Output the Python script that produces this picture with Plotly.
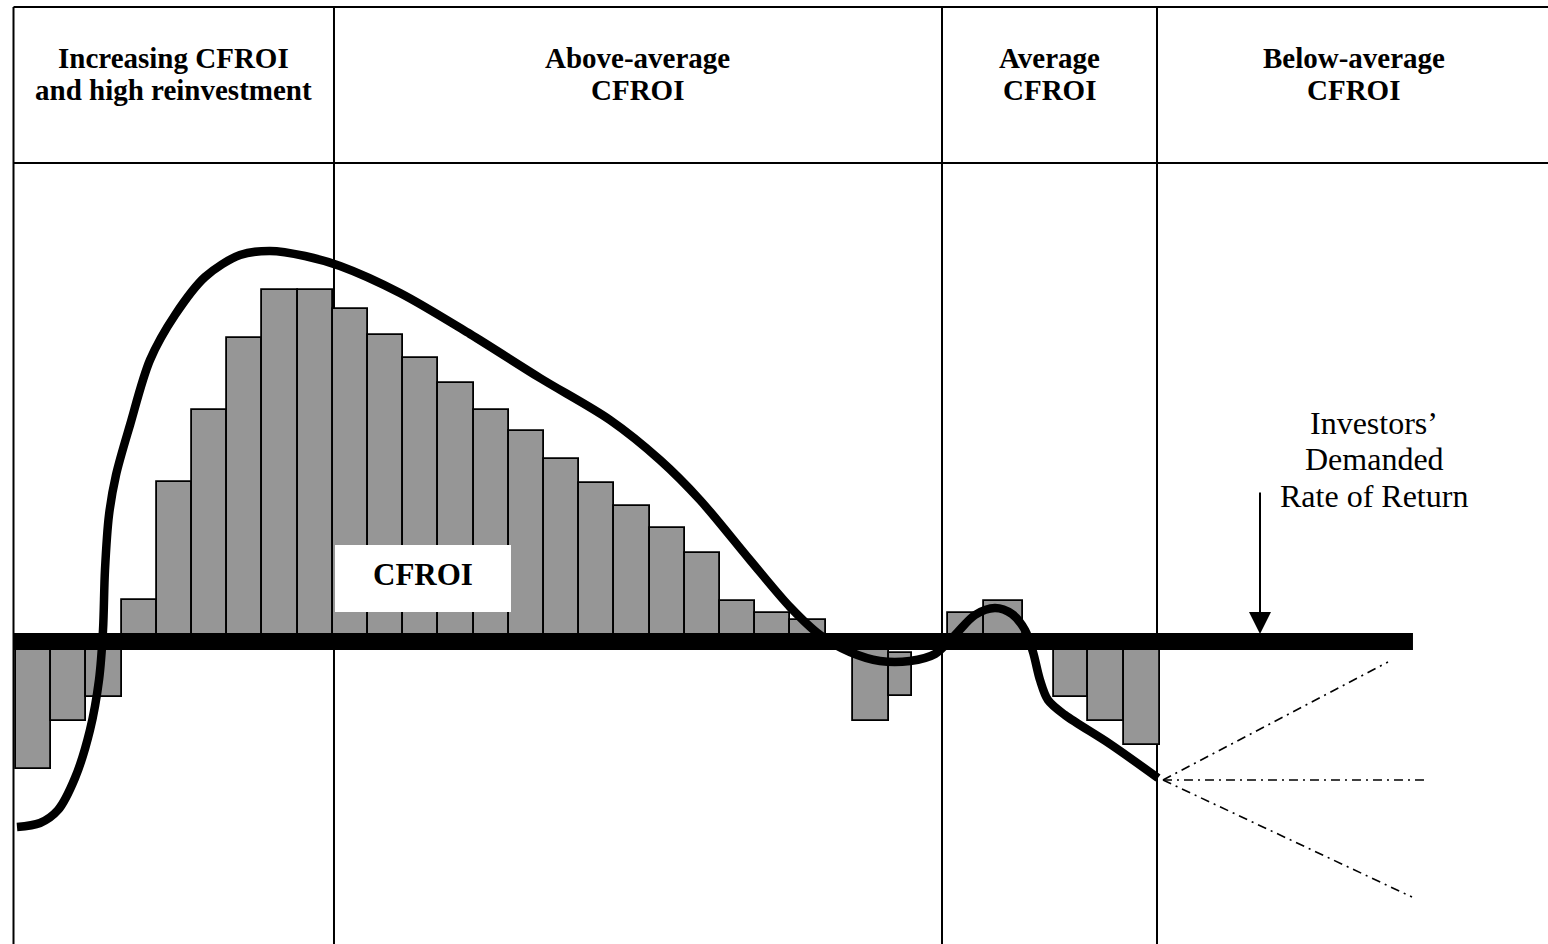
import plotly.graph_objects as go

# ---------------- data (period units on x, CFROI spread units on y) ----------------
bar_period = [0.5, 1.5, 2.5, 3.5, 4.5, 5.5, 6.5, 7.5, 8.5, 9.5, 10.5, 11.5, 12.5, 13.5,
              14.5, 15.5, 16.5, 17.5, 18.5, 19.5, 20.5, 21.5, 22.5,
              24.29, 25.13, 26.99, 28.05, 29.97, 30.97, 31.99]
bar_width = [1.0] * 23 + [1.02, 0.65, 1.02, 1.1, 0.97, 1.02, 1.02]
bar_value = [-12.7, -7.9, -5.5, 4.2, 16.0, 23.2, 30.4, 35.2, 35.2, 33.3, 30.7, 28.4,
             25.9, 23.2, 21.1, 18.3, 15.9, 13.6, 11.4, 8.9, 4.1, 2.9, 2.2,
             -7.9, -4.3, 2.9, 4.1, -5.5, -7.9, -10.3]
bar_base = [0] * 24 + [-1.15] + [0] * 5

curve_x = [0.028, 0.682, 1.193, 1.676, 2.102, 2.358, 2.472, 2.528, 2.642, 2.841, 3.239,
           3.807, 4.517, 5.369, 6.364, 7.216, 8.21, 9.205, 10.909, 12.898, 14.886,
           16.875, 18.295, 19.432, 20.852, 21.989, 22.841, 23.693, 24.545, 25.398,
           26.108, 26.676, 27.244, 27.813, 28.295, 28.665, 28.892, 29.091, 29.318,
           29.801, 31.08, 32.443]
curve_y = [-18.55, -18.15, -16.85, -13.65, -8.85, -3.85, 1.15, 7.15, 12.65, 16.65, 21.65,
           28.15, 32.65, 36.45, 38.65, 39.05, 38.55, 37.55, 34.85, 30.75, 26.35, 22.15,
           18.15, 14.15, 8.15, 3.45, 0.65, -1.05, -1.95, -1.95, -1.25, 0.65, 2.65, 3.35,
           2.75, 1.15, -1.05, -3.85, -5.85, -7.35, -10.25, -13.65]

# demanded rate of return (baseline) and scenario fan
hurdle_x = [-0.085, 39.687]
hurdle_y = [0, 0]
fan_start = (32.585, -13.85)
fan_end_x = [38.977, 40.028, 39.659]
fan_end_y = [-2.05, -13.85, -25.55]

# phase boundaries
phase_bounds = [-0.071, 9.034, 26.307, 32.415]
phase_centers = [4.48, 17.67, 29.36, 38.0]
phase_line1 = ["Increasing CFROI", "Above-average", "Average", "Below-average"]
phase_line2 = ["and high reinvestment", "CFROI", "CFROI", "CFROI"]

X_RANGE = [-0.4545, 43.523]
Y_RANGE = [-30.25, 64.15]
TOP_Y = 63.45
HEADER_Y = 47.85

fig = go.Figure()

fig.add_trace(go.Bar(
    x=bar_period, y=bar_value, width=bar_width, base=bar_base,
    marker=dict(color="#969696", line=dict(color="black", width=1.8)),
    hoverinfo="skip", showlegend=False,
))

fig.add_trace(go.Scatter(
    x=hurdle_x, y=hurdle_y, mode="lines",
    line=dict(color="black", width=17), hoverinfo="skip", showlegend=False,
))

fig.add_trace(go.Scatter(
    x=curve_x, y=curve_y, mode="lines",
    line=dict(color="black", width=8.5, shape="spline", smoothing=0.9),
    hoverinfo="skip", showlegend=False,
))

for ex, ey in zip(fan_end_x, fan_end_y):
    fig.add_trace(go.Scatter(
        x=[fan_start[0], ex], y=[fan_start[1], ey], mode="lines",
        line=dict(color="black", width=1.6, dash="9px,5px,2px,5px"),
        hoverinfo="skip", showlegend=False,
    ))

shapes = []
# table frame
shapes.append(dict(type="line", xref="x", yref="y", x0=phase_bounds[0], x1=X_RANGE[1],
                   y0=TOP_Y, y1=TOP_Y, line=dict(color="black", width=2), layer="below"))
shapes.append(dict(type="line", xref="x", yref="y", x0=phase_bounds[0], x1=X_RANGE[1],
                   y0=HEADER_Y, y1=HEADER_Y, line=dict(color="black", width=2), layer="below"))
for xb in phase_bounds:
    shapes.append(dict(type="line", xref="x", yref="y", x0=xb, x1=xb,
                       y0=TOP_Y, y1=Y_RANGE[0], line=dict(color="black", width=2),
                       layer="below"))
# white label box
shapes.append(dict(type="rect", xref="x", yref="y", x0=9.063, x1=14.063, y0=2.95, y1=9.65,
                   fillcolor="white", line=dict(width=0), layer="above"))

annotations = []
for cx, l1, l2 in zip(phase_centers, phase_line1, phase_line2):
    annotations.append(dict(x=cx, y=58.35, xref="x", yref="y", text="<b>%s</b>" % l1,
                            showarrow=False, font=dict(family="Liberation Serif", size=29,
                                                       color="black")))
    annotations.append(dict(x=cx, y=55.15, xref="x", yref="y", text="<b>%s</b>" % l2,
                            showarrow=False, font=dict(family="Liberation Serif", size=29,
                                                       color="black")))

annotations.append(dict(x=11.563, y=6.75, xref="x", yref="y", text="<b>CFROI</b>",
                        showarrow=False, font=dict(family="Liberation Serif", size=31,
                                                   color="black")))

for ty, t in zip([21.85, 18.25, 14.55], ["Investors’", "Demanded", "Rate of Return"]):
    annotations.append(dict(x=38.58, y=ty, xref="x", yref="y", text=t, showarrow=False,
                            font=dict(family="Liberation Serif", size=32, color="black")))

# arrow to the hurdle line
annotations.append(dict(x=35.341, y=0.75, ax=35.341, ay=15.05, xref="x", yref="y",
                        axref="x", ayref="y", text="", showarrow=True, arrowhead=2,
                        arrowsize=2.2, arrowwidth=2, arrowcolor="black"))

fig.update_layout(
    width=1548, height=944,
    margin=dict(l=0, r=0, t=0, b=0),
    paper_bgcolor="white", plot_bgcolor="white",
    xaxis=dict(range=X_RANGE, visible=False, showgrid=False, zeroline=False),
    yaxis=dict(range=Y_RANGE, visible=False, showgrid=False, zeroline=False),
    shapes=shapes, annotations=annotations, bargap=0,
    showlegend=False,
)

fig.write_html("out.html", config={"displayModeBar": False},
               post_script="document.body.style.margin='0';")
